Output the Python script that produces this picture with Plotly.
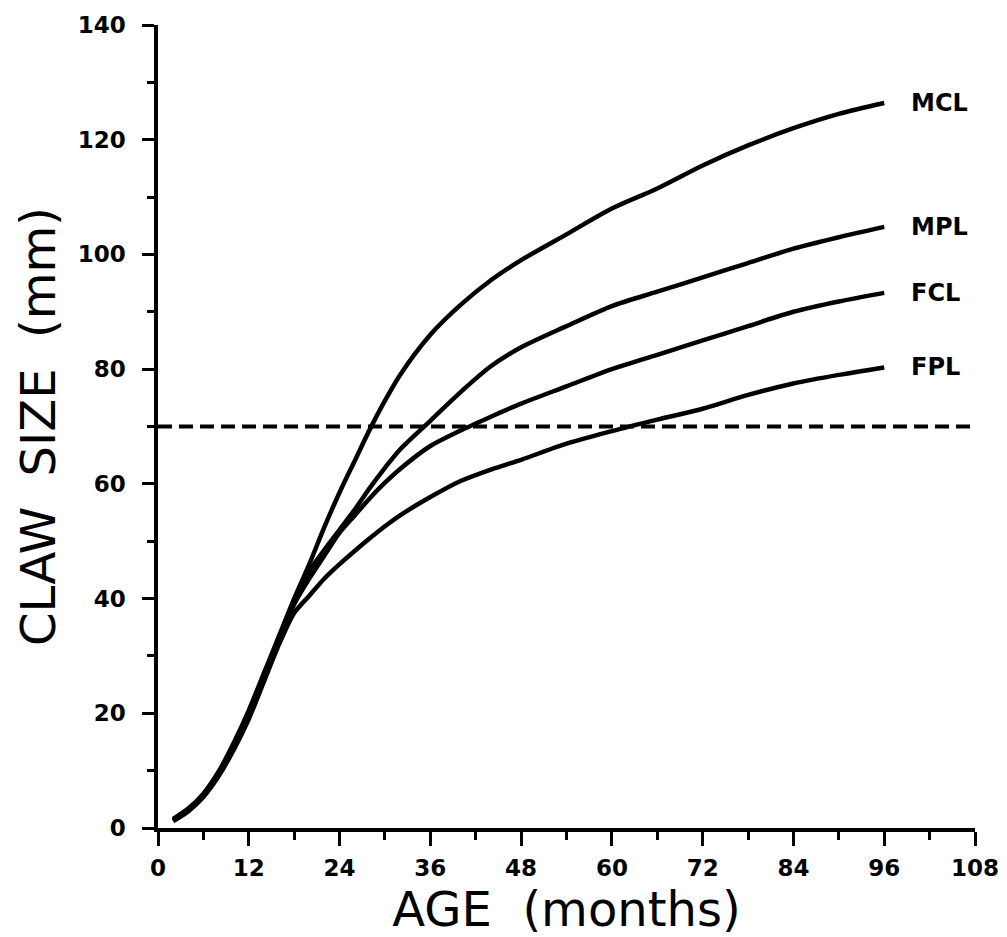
import plotly.graph_objects as go

# Age in months at which the growth curves are sampled
months = [2, 4, 6, 8, 10, 12, 14, 16, 18, 20, 22, 24, 26, 28, 30, 32,
          36, 40, 44, 48, 54, 60, 66, 72, 78, 84, 90, 96]

# Claw size (mm) for each curve
mcl = [1.6, 3.4, 6.0, 9.8, 14.8, 20.5, 27.0, 33.5, 40.0, 46.0, 52.5, 58.5, 64.0, 69.5,
       74.5, 79.0, 86.0, 91.2, 95.5, 99.0, 103.5, 108.0, 111.5, 115.5, 119.0, 122.0,
       124.5, 126.4]
mpl = [1.4, 3.2, 5.8, 9.5, 14.3, 20.0, 26.5, 33.0, 39.5, 44.8, 48.5, 52.0, 55.5, 59.3,
       62.8, 66.0, 71.0, 76.0, 80.5, 83.8, 87.5, 91.0, 93.5, 96.0, 98.5, 101.0,
       103.0, 104.8]
fcl = [1.3, 3.1, 5.6, 9.2, 14.0, 19.5, 26.0, 32.5, 39.0, 43.5, 47.5, 51.5, 54.5, 57.5,
       60.2, 62.6, 66.6, 69.3, 71.7, 74.0, 77.0, 80.0, 82.5, 85.0, 87.5, 90.0,
       91.8, 93.3]
fpl = [1.2, 2.9, 5.4, 9.0, 13.6, 19.0, 25.5, 32.0, 37.5, 40.5, 43.5, 46.0, 48.3, 50.5,
       52.6, 54.5, 57.7, 60.5, 62.5, 64.2, 67.0, 69.2, 71.2, 73.1, 75.5, 77.5,
       79.0, 80.3]

series_names = ["MCL", "MPL", "FCL", "FPL"]
series_values = [mcl, mpl, fcl, fpl]

# Reference size drawn as a dashed horizontal line
threshold_months = [0, 108]
threshold_size = [70, 70]

x_ticks = [0, 12, 24, 36, 48, 60, 72, 84, 96, 108]
y_ticks = [0, 20, 40, 60, 80, 100, 120, 140]

FONT = "DejaVu Sans"
INK = "black"

fig = go.Figure()

fig.add_trace(go.Scatter(
    x=threshold_months, y=threshold_size, mode="lines",
    line=dict(color=INK, width=4, dash="14px,7px"),
    hoverinfo="skip", showlegend=False,
))

for name, vals in zip(series_names, series_values):
    fig.add_trace(go.Scatter(
        x=months, y=vals, mode="lines", name=name,
        line=dict(color=INK, width=4.5, shape="spline", smoothing=0.8),
        showlegend=False,
    ))
    fig.add_annotation(
        x=99.3, y=vals[-1], text=name, showarrow=False,
        xanchor="left", yanchor="middle",
        font=dict(family=FONT, size=24, color=INK, weight=700),
    )

fig.update_layout(
    width=1007, height=937,
    margin=dict(l=158, r=32, t=25, b=109),
    paper_bgcolor="white", plot_bgcolor="white",
    showlegend=False,
)

fig.update_xaxes(
    range=[0, 108], tickvals=x_ticks, ticktext=[str(v) for v in x_ticks],
    showgrid=False, zeroline=False,
    showline=True, linecolor=INK, linewidth=3.5,
    ticks="outside", ticklen=14, tickwidth=3, tickcolor=INK,
    minor=dict(dtick=6, tick0=0, ticks="outside", ticklen=8, tickwidth=3,
               tickcolor=INK, showgrid=False),
    tickfont=dict(family=FONT, size=23, color=INK, weight=700),
    ticklabelstandoff=3,
    title=dict(text="AGE  (months)", standoff=4,
               font=dict(family=FONT, size=48, color=INK)),
    automargin=False,
)

fig.update_yaxes(
    range=[0, 140], tickvals=y_ticks, ticktext=[str(v) for v in y_ticks],
    showgrid=False, zeroline=False,
    showline=True, linecolor=INK, linewidth=3.5,
    ticks="outside", ticklen=12, tickwidth=3, tickcolor=INK,
    minor=dict(dtick=10, tick0=0, ticks="outside", ticklen=7, tickwidth=3,
               tickcolor=INK, showgrid=False),
    tickfont=dict(family=FONT, size=23, color=INK, weight=700),
    ticklabelstandoff=12,
    title=dict(text="CLAW  SIZE  (mm)", standoff=8,
               font=dict(family=FONT, size=48, color=INK)),
    automargin=False,
)

fig.write_html("out.html")
